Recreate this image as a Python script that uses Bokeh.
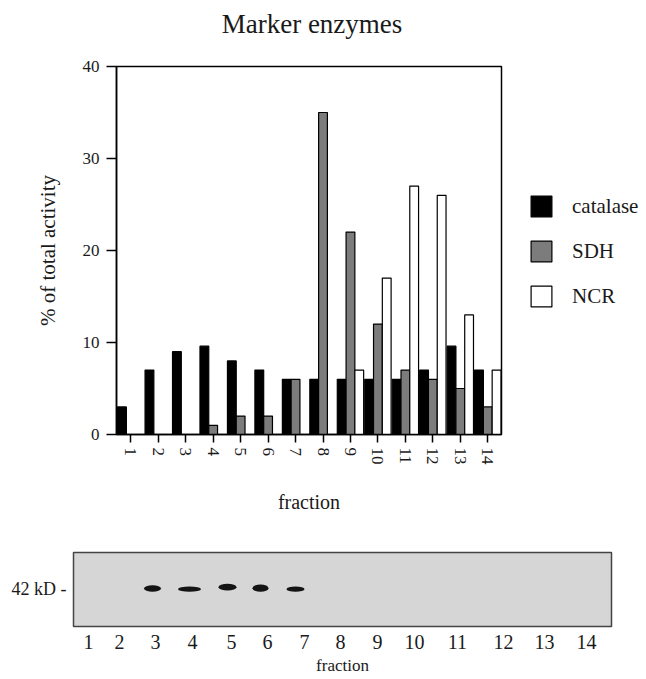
from bokeh.plotting import figure
from bokeh.models import (ColumnDataSource, Legend, LegendItem, FixedTicker, Range1d,
                          LinearAxis)
from bokeh.embed import file_html
from bokeh.resources import INLINE

# ---- data: marker enzyme activity per fraction (% of total) ----
fractions = list(range(1, 15))
catalase = [3, 7, 9, 9.6, 8, 7, 6, 6, 6, 6, 6, 7, 9.6, 7]
sdh = [0, 0, 0, 1, 2, 2, 6, 35, 22, 12, 7, 6, 5, 3]
ncr = [0, 0, 0, 0, 0, 0, 0, 0, 7, 17, 27, 26, 13, 7]
y_ticks = [0, 10, 20, 30, 40]

# ---- data: western blot (positions measured along the blot, px from its left edge) ----
lanes = list(range(1, 15))
lane_centre = [15, 46, 82, 119, 158, 194, 231, 267, 304, 341, 384, 430, 471, 513]
band_lanes = [3, 4, 5, 6, 7]
band_pos = [79, 116, 154, 187, 222]
band_level = [38, 37.3, 39.3, 38.3, 37.3]
band_length = [17, 23, 18, 16, 18]
band_thickness = [6.3, 5.3, 6.7, 7.3, 5.3]
marker_level = 38
marker_label = "42 kD -"

TITLE = "Marker enzymes"
TITLE_AT = 7.6   # horizontal centre of the title, in fraction units

FONT = "Liberation Serif"
TXT = "#1a1a1a"
BAR_W = 0.32

p = figure(frame_width=385, frame_height=368, x_range=Range1d(0.48, 14.5), y_range=Range1d(0, 40),
           output_backend="svg", toolbar_location=None,
           min_border_left=116, min_border_right=144, min_border_top=66, min_border_bottom=84)
p.grid.visible = False
p.outline_line_color = "black"
p.outline_line_width = 1.5
p.background_fill_color = "white"
p.border_fill_color = "white"

src = ColumnDataSource(dict(
    x_cat=[f - BAR_W for f in fractions], x_sdh=fractions, x_ncr=[f + BAR_W for f in fractions],
    catalase=catalase, sdh=sdh, ncr=ncr))
r1 = p.vbar(x="x_cat", top="catalase", width=BAR_W, bottom=0, source=src,
            fill_color="black", line_color="black", line_width=1.2)
r2 = p.vbar(x="x_sdh", top="sdh", width=BAR_W, bottom=0, source=src,
            fill_color="#7c7c7c", line_color="black", line_width=1.2)
r3 = p.vbar(x="x_ncr", top="ncr", width=BAR_W, bottom=0, source=src,
            fill_color="white", line_color="black", line_width=1.2)

ya = p.yaxis[0]
ya.ticker = FixedTicker(ticks=y_ticks)
ya.minor_tick_line_color = None
ya.major_tick_out = 10
ya.major_tick_in = 0
ya.major_tick_line_width = 1.5
ya.axis_line_width = 1.5
ya.major_label_standoff = 7
ya.major_label_text_font = FONT
ya.major_label_text_font_size = "17px"
ya.major_label_text_color = TXT
ya.axis_label = "% of total activity"
ya.axis_label_text_font = FONT
ya.axis_label_text_font_style = "normal"
ya.axis_label_text_font_size = "21px"
ya.axis_label_text_color = TXT
ya.axis_label_standoff = 20

xa = p.xaxis[0]
xa.ticker = FixedTicker(ticks=fractions)
xa.minor_tick_line_color = None
xa.major_tick_out = 8
xa.major_tick_in = 0
xa.major_tick_line_width = 1.5
xa.axis_line_width = 1.5
xa.major_label_orientation = "vertical"
xa.major_label_standoff = 5
xa.major_label_text_font = FONT
xa.major_label_text_font_size = "17px"
xa.major_label_text_color = TXT
xa.axis_label = "fraction"
xa.axis_label_text_font = FONT
xa.axis_label_text_font_style = "normal"
xa.axis_label_text_font_size = "20px"
xa.axis_label_text_color = TXT
xa.axis_label_standoff = 23

# title drawn as the single label of an otherwise invisible axis above the frame
top_axis = LinearAxis(ticker=FixedTicker(ticks=[TITLE_AT]),
                      major_label_overrides={TITLE_AT: TITLE},
                      axis_line_color=None, major_tick_line_color=None,
                      minor_tick_line_color=None, major_tick_out=0, major_tick_in=0,
                      major_label_standoff=28, major_label_text_font=FONT,
                      major_label_text_font_size="27px", major_label_text_color=TXT)
p.add_layout(top_axis, "above")

legend = Legend(items=[LegendItem(label="catalase", renderers=[r1]),
                       LegendItem(label="SDH", renderers=[r2]),
                       LegendItem(label="NCR", renderers=[r3])],
                location=(27, 125), orientation="vertical",
                glyph_width=26, glyph_height=26, label_height=26, spacing=19,
                label_standoff=18, padding=0, margin=0,
                label_text_font=FONT, label_text_font_size="21px", label_text_color=TXT,
                border_line_color=None, background_fill_alpha=0)
p.add_layout(legend, "right")

# ---- blot panel ----
b = figure(frame_width=538, frame_height=74, x_range=Range1d(0, 538), y_range=Range1d(0, 74),
           output_backend="svg", toolbar_location=None,
           min_border_left=73, min_border_right=34, min_border_top=34, min_border_bottom=44)
b.grid.visible = False
b.background_fill_color = "#d6d6d6"
b.border_fill_color = "white"
b.outline_line_color = "#444444"
b.outline_line_width = 1.5

bsrc = ColumnDataSource(dict(x=band_pos, y=band_level, w=band_length, h=band_thickness))
b.ellipse(x="x", y="y", width="w", height="h", source=bsrc, fill_color="#141414", line_color=None)

bx = b.xaxis[0]
bx.ticker = FixedTicker(ticks=lane_centre)
bx.major_label_overrides = {c: str(l) for c, l in zip(lane_centre, lanes)}
bx.axis_line_color = None
bx.major_tick_line_color = None
bx.minor_tick_line_color = None
bx.major_tick_out = 0
bx.major_tick_in = 0
bx.major_label_standoff = 8
bx.major_label_text_font = FONT
bx.major_label_text_font_size = "20px"
bx.major_label_text_color = TXT
bx.axis_label = "fraction"
bx.axis_label_text_font = FONT
bx.axis_label_text_font_style = "normal"
bx.axis_label_text_font_size = "17px"
bx.axis_label_text_color = TXT
bx.axis_label_standoff = 4

by = b.yaxis[0]
by.ticker = FixedTicker(ticks=[marker_level])
by.major_label_overrides = {marker_level: marker_label}
by.axis_line_color = None
by.major_tick_line_color = None
by.minor_tick_line_color = None
by.major_tick_out = 0
by.major_tick_in = 0
by.major_label_standoff = 7
by.major_label_text_font = FONT
by.major_label_text_font_size = "18px"
by.major_label_text_color = TXT

open("out.html", "w").write(file_html([p, b], INLINE))
